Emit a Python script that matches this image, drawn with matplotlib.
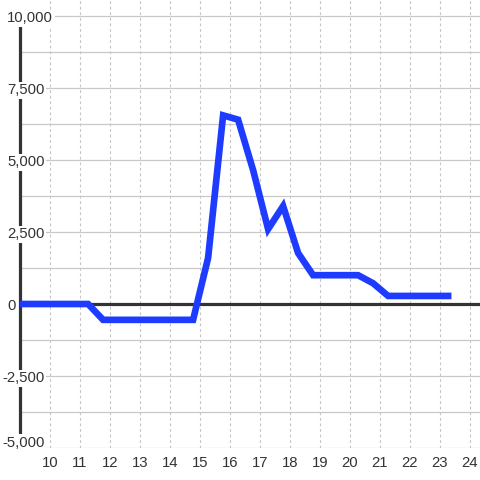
import numpy as np
import matplotlib
matplotlib.use("Agg")
import matplotlib.pyplot as plt

plt.rcParams['font.family'] = ['Liberation Sans', 'DejaVu Sans']

# data (hours, value)
hours = [8.77, 9.27, 9.77, 10.27, 10.77, 11.27, 11.77, 12.27, 12.77, 13.27,
         13.77, 14.27, 14.77, 15.27, 15.77, 16.27, 16.77, 17.27, 17.77, 18.27,
         18.77, 19.27, 19.77, 20.27, 20.77, 21.27, 21.77, 22.27, 22.77, 23.27]
values = [0, 0, 0, 0, 0, 0, -550, -550, -550, -550,
          -550, -550, -550, 1600, 6550, 6400, 4650, 2600, 3400, 1770,
          1000, 1000, 1000, 1000, 720, 280, 280, 280, 280, 280]

x_ticks = list(range(10, 25))
y_grid = [-5000, -3750, -2500, -1250, 0, 1250, 2500, 3750, 5000, 6250, 7500, 8750, 10000]
y_labels = [(10000, "10,000"), (7500, "7,500"), (5000, "5,000"), (2500, "2,500"),
            (0, "0"), (-2500, "-2,500"), (-5000, "-5,000")]

fig = plt.figure(figsize=(4.8, 4.8), dpi=100, facecolor='white')
ax = fig.add_axes([20/480, 32/480, 460/480, 448/480])

ax.set_xlim(9, 9 + 460/30)
ax.set_ylim(-5000, 10000 + 16*2500/72)

# grid
ax.set_xticks(x_ticks)
ax.set_yticks(y_grid)
ax.set_yticklabels([])
ax.tick_params(axis='both', length=0)
ax.tick_params(axis='x', pad=6, labelsize=10.7, labelcolor='#333333')
for xv in x_ticks:
    ax.axvline(xv, color='#c4c4c4', lw=0.8, ls=(0, (2.5, 2.5)), zorder=1)
for yv in y_grid:
    ax.axhline(yv, color='#c8c8c8', lw=0.9, zorder=1)

for s in ['top', 'right', 'bottom']:
    ax.spines[s].set_visible(False)
ax.spines['left'].set_color('#333333')
ax.spines['left'].set_linewidth(2.3)
ax.spines['left'].set_bounds(-5000, 10000)

# zero line
ax.axhline(0, color='#333333', lw=2.3, zorder=2.6)

# series
ax.plot(hours, values, color='#1e3cff', lw=4.8, solid_joinstyle='miter',
        solid_capstyle='projecting', zorder=3)

# y labels over the axis with white background
ymin = y_grid[0]
for v, lbl in y_labels:
    px = 2 if lbl.startswith('-') else 7
    if v == ymin:
        # bottom label sits on the last grid line
        yy, va = v + 35, 'baseline'
    else:
        yy, va = v - 30, 'center_baseline'
    ax.text((px - 20) / 460, yy, lbl, transform=ax.get_yaxis_transform(),
            ha='left', va=va, fontsize=10.7, color='#333333', zorder=5,
            bbox=dict(boxstyle='square,pad=0.12', fc='white', ec='none'))

fig.savefig('out.png', dpi=100, facecolor='white')
